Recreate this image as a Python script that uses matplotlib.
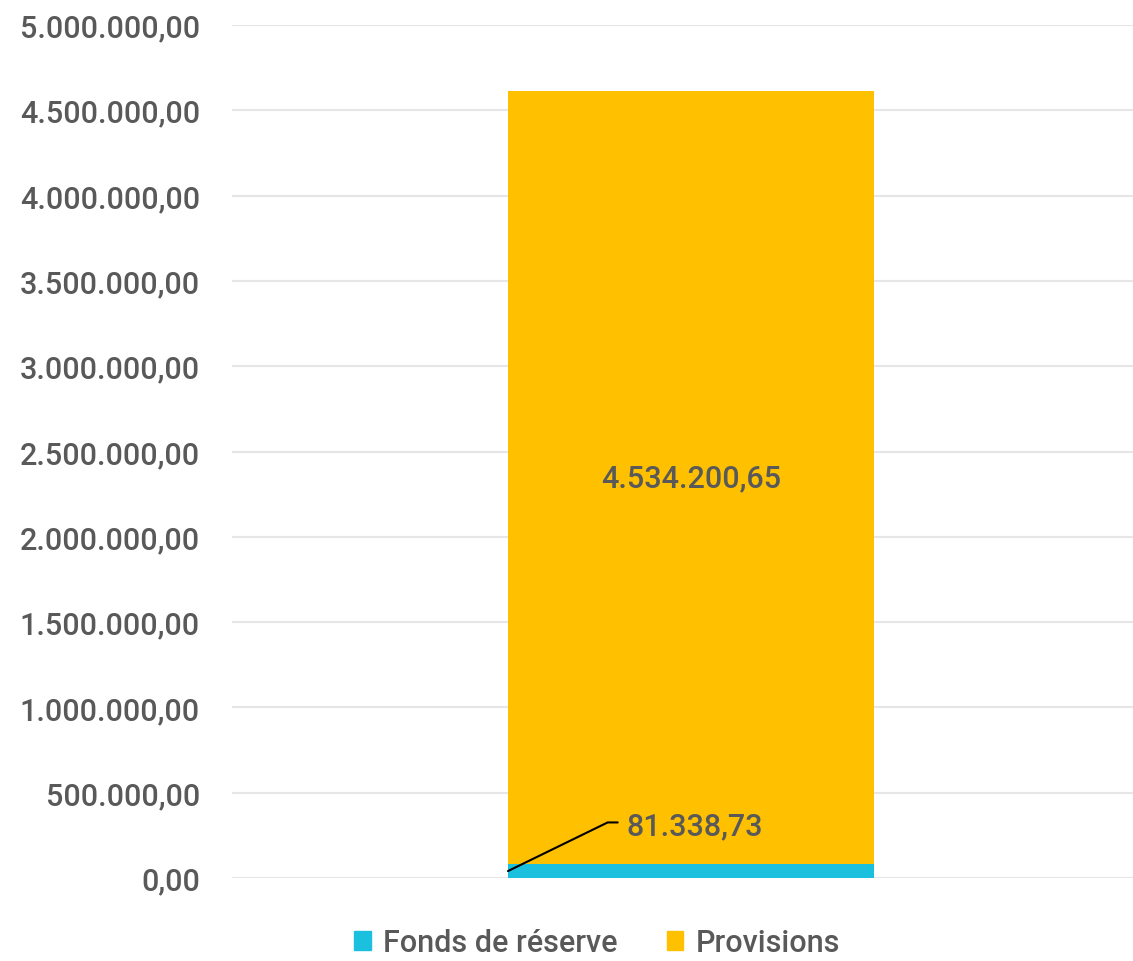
import matplotlib.pyplot as plt
from matplotlib.ticker import FuncFormatter
from matplotlib.patches import Patch

series = ['Fonds de réserve', 'Provisions']
values = [81338.73, 4534200.65]
kolory = ['#1BC0DE', '#FFC000']
yticks = [0, 500000, 1000000, 1500000, 2000000, 2500000, 3000000, 3500000, 4000000, 4500000, 5000000]

plt.rcParams['font.family'] = ['Roboto', 'DejaVu Sans']
plt.rcParams['font.weight'] = 'medium'
szary = '#595959'
rozmiar = 22


def fmt(v, pos=None):
    s = f'{v:,.2f}'
    return s.replace(',', ' ').replace('.', ',').replace(' ', '.')


fig = plt.figure(figsize=(11.33, 9.62), dpi=100)
ax = fig.add_axes([232 / 1133, 83 / 962, 901 / 1133, 853 / 962])

w = 0.4
bottom = 0
for nazwa, v, k in zip(series, values, kolory):
    ax.bar(0, v, width=w, bottom=bottom, color=k, zorder=2)
    bottom += v

# etykiety
ax.text(0, values[0] + values[1] / 2, fmt(values[1]), ha='center', va='center',
        fontsize=rozmiar, color=szary)
ax.annotate(fmt(values[0]), xy=(-w / 2, values[0] / 2), xytext=(85, 32.5),
            textcoords='offset points', ha='left', va='center', fontsize=rozmiar, color=szary,
            arrowprops=dict(arrowstyle='-', color='black', lw=1.5, relpos=(0, 0.62),
                            shrinkA=4, shrinkB=0,
                            connectionstyle='angle,angleA=0,angleB=26,rad=0'),
            zorder=3)

ax.set_ylim(0, 5000000)
ax.set_xlim(-0.5016, 0.4831)
ax.set_yticks(yticks)
ax.yaxis.set_major_formatter(FuncFormatter(fmt))
ax.set_xticks([])
ax.tick_params(axis='y', length=0, pad=23, labelsize=rozmiar, labelcolor=szary)
ax.grid(axis='y', color='#E6E6E6', lw=1.5, zorder=0)
ax.set_axisbelow(True)
for s in ax.spines.values():
    s.set_visible(False)

uchwyty = [Patch(color=k, label=n) for n, k in zip(series, kolory)]
fig.legend(handles=uchwyty, loc='center', bbox_to_anchor=(597 / 1133, 1 - 944 / 962),
           ncol=2, frameon=False, fontsize=rozmiar, labelcolor=szary,
           handlelength=0.55, handleheight=0.55, handletextpad=0.4, columnspacing=1.6,
           borderpad=0.2)

fig.savefig('out.png', dpi=100)
